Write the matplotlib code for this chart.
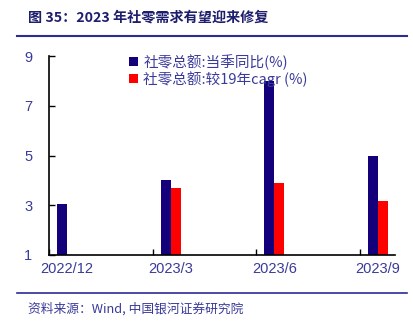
import matplotlib
matplotlib.use("Agg")
import matplotlib.pyplot as plt
import numpy as np

categories = ["2022/12", "2023/3", "2023/6", "2023/9"]
yoy = [3.05, 4.0, 8.0, 5.0]
cagr = [np.nan, 3.7, 3.88, 3.18]
yticks = [1, 3, 5, 7, 9]

navy = "#14007A"
red = "#FF0000"
txt = "#3A3A9A"

plt.rcParams["font.family"] = ["Liberation Sans", "Noto Sans CJK SC", "DejaVu Sans"]

fig = plt.figure(figsize=(4.14, 3.25), dpi=100)
ax = fig.add_axes([49 / 414, 1 - 255 / 325, 346 / 414, 199 / 325])

x = np.arange(len(categories))
w = 0.096
ax.bar(x - w / 2, np.array(yoy) - 1, w, bottom=1, color=navy,
       label="社零总额:当季同比(%)")
ax.bar(x + w / 2, np.array(cagr) - 1, w, bottom=1, color=red,
       label="社零总额:较19年cagr (%)")

ax.set_xlim(-0.175, 3.163)
ax.set_ylim(1, 9)
ax.set_yticks(yticks)
ax.set_xticks(x - 0.175)
ax.set_xticklabels([])
ax.set_xticks(x, minor=True)
ax.set_xticklabels(categories, minor=True)
ax.tick_params(axis="x", which="minor", length=0, pad=5, labelsize=10.5, labelcolor=txt)
ax.tick_params(axis="x", which="major", direction="in", length=4, width=1)
ax.tick_params(axis="y", direction="in", length=4, width=1, pad=12,
               labelsize=10.5, labelcolor=txt)
for s in ["top", "right"]:
    ax.spines[s].set_visible(False)
for s in ["left", "bottom"]:
    ax.spines[s].set_linewidth(1.2)

fig.legend(loc="upper left", bbox_to_anchor=(122 / 414, 1 - 47 / 325),
           frameon=False, borderpad=0, handlelength=0.6, handleheight=0.6,
           handletextpad=0.35, labelspacing=0.05,
           prop={"family": ["Noto Sans CJK SC", "DejaVu Sans"], "size": 10.5},
           labelcolor=txt)

fig.text(28 / 414, 1 - 18 / 325, "图 35：2023 年社零需求有望迎来修复",
         fontsize=10.2, fontweight="bold", color="#1E1E6E", va="center",
         family=["Noto Sans CJK SC", "DejaVu Sans"])
fig.add_artist(plt.Line2D([17 / 414, 407 / 414], [1 - 36 / 325] * 2,
                          color="#2B2B9A", lw=1.5))
fig.add_artist(plt.Line2D([17 / 414, 407 / 414], [1 - 293 / 325] * 2,
                          color="#2B2B9A", lw=1.2))
fig.text(28 / 414, 1 - 309 / 325, "资料来源：Wind, 中国银河证券研究院",
         fontsize=9.2, style="italic", color="#3A3A9A", va="center",
         family=["Noto Sans CJK SC", "DejaVu Sans"])

fig.savefig("out.png", dpi=100)
